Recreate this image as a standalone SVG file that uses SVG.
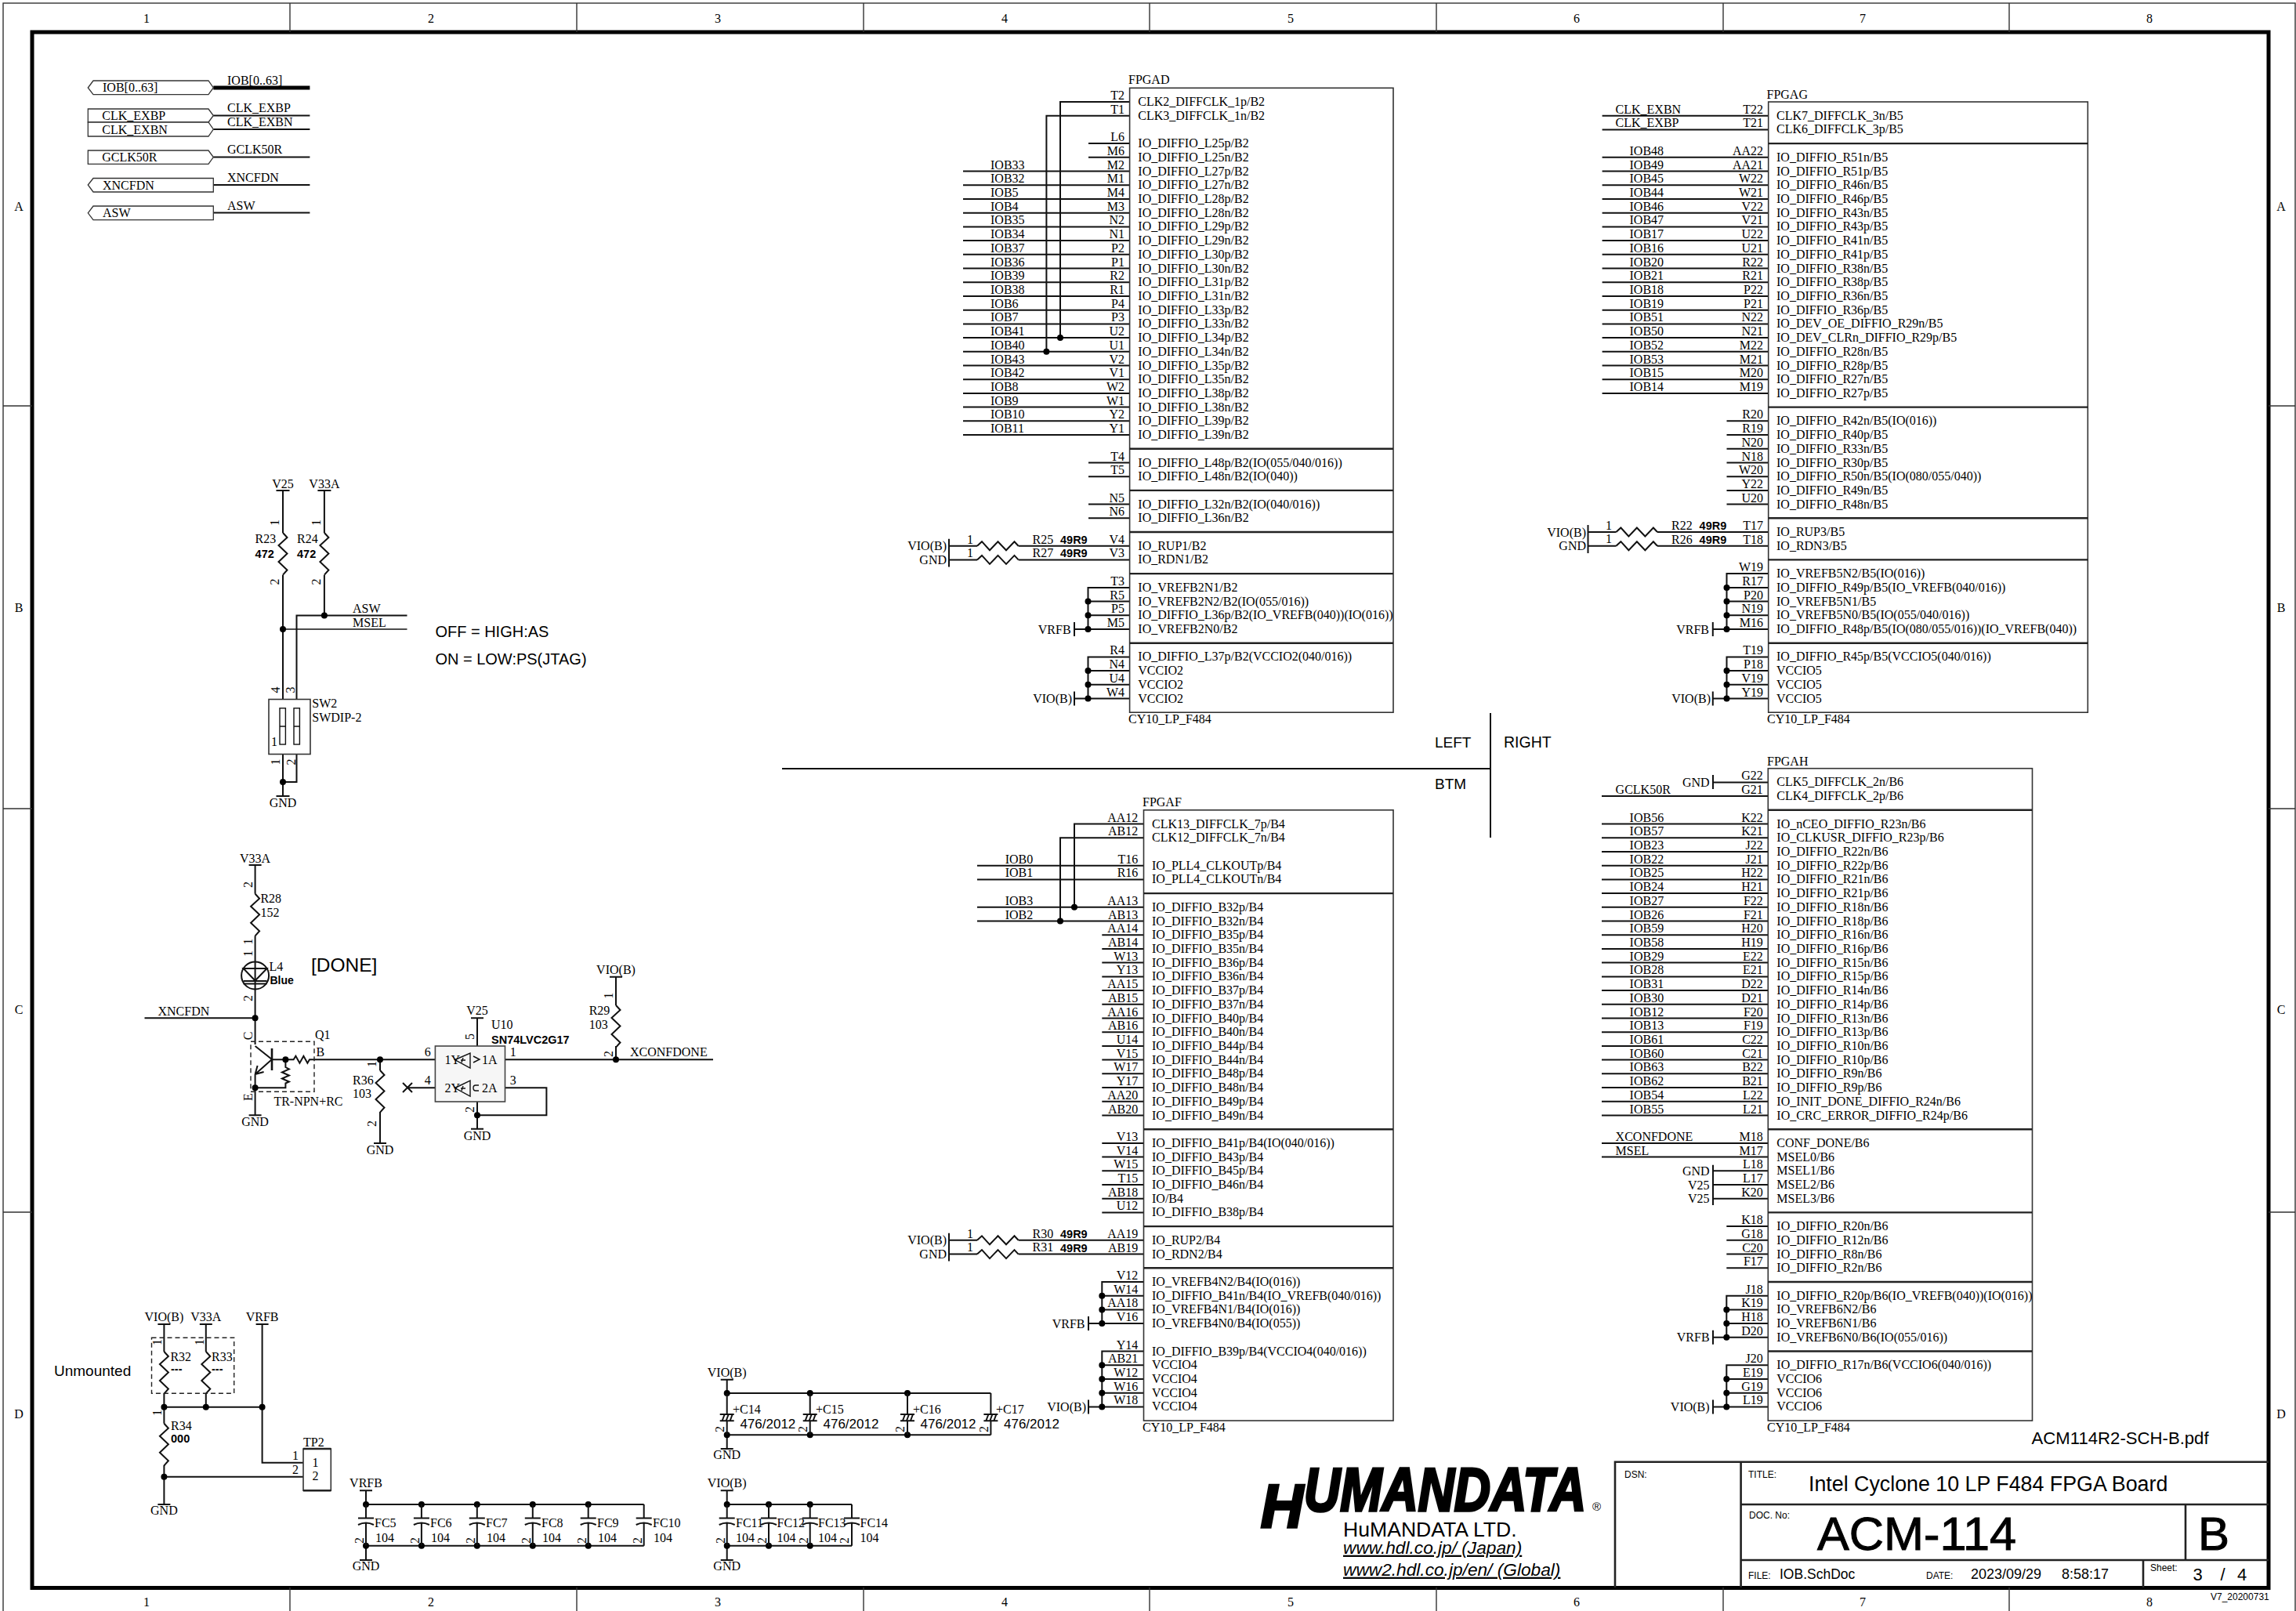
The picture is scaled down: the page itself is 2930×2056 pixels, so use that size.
<svg xmlns="http://www.w3.org/2000/svg" width="2930" height="2056" viewBox="0 0 2930 2056">
<style>
text{font-family:"Liberation Serif","Times New Roman",serif;font-size:16px;fill:#000}
.s text,text.s{font-family:"Liberation Sans",Arial,sans-serif}
.e text,text.e{text-anchor:end}
.m text,text.m{text-anchor:middle}
.bd{font-family:"Liberation Sans",Arial,sans-serif;font-weight:bold;font-size:14.5px}
.w{fill:none;stroke:#111;stroke-width:2}
.th{fill:none;stroke:#111;stroke-width:1.4}
.bus{fill:none;stroke:#000;stroke-width:5}
.dots{fill:none;stroke:#000;stroke-width:8;stroke-linecap:round}
.box{fill:#fff;stroke:#333;stroke-width:1.6}
.sec{fill:none;stroke:#222;stroke-width:2.4}
.dash{fill:none;stroke:#222;stroke-width:1.4;stroke-dasharray:6 4}
.port{fill:#fff;stroke:#333;stroke-width:1.3}
.frame{fill:none;stroke:#000;stroke-width:5}
.thin{fill:none;stroke:#333;stroke-width:1.4}
.tb{fill:none;stroke:#222;stroke-width:2.6}
.sm{font-family:"Liberation Sans",Arial,sans-serif;font-size:12px}
.logo{font-size:78px;font-weight:bold;font-style:italic;stroke:#000;stroke-width:3.5}
</style>
<defs>
<path id="rh" class="w" d="M0 0l6-5.5 10 11 10.5-11 10.5 11 10.5-11 5.1 5.5"/>
<path id="rv" class="w" d="M0 0l5.5 6-11 10 11 10.5-11 10.5 11 10.5-5.5 6.2"/>
<path id="fc" class="w" d="M0 0V17.5M-10 17.5H10M-10 26q10-5 20 0M0 23.5V52.7"/>
<path id="ec" class="w" d="M0 0V27M-9 27H9M-9 35.3H9M0 35.3V53.3M-6 35l3-8M-1 35l3-8M4 35l3-8"/>
</defs>
<rect width="2930" height="2056" fill="#fff"/>

<g id="frame">
<rect class="thin" x="4" y="4" width="2925" height="2060"/>
<rect class="frame" x="41" y="41" width="2854" height="1985.5"/>
<path class="thin" d="M370 4V41M736 4V41M1102 4V41M1467 4V41M1833 4V41M2199 4V41M2564 4V41M370 2026V2056M736 2026V2056M1102 2026V2056M1467 2026V2056M1833 2026V2056M2199 2026V2056M2564 2026V2056M4 518H41M4 1032H41M4 1547H41M2895 518H2929M2895 1032H2929M2895 1547H2929"/>
<g class="m">
<text x="187" y="29">1</text><text x="550" y="29">2</text><text x="916" y="29">3</text><text x="1282" y="29">4</text><text x="1647" y="29">5</text><text x="2012" y="29">6</text><text x="2377" y="29">7</text><text x="2743" y="29">8</text>
<text x="187" y="2050">1</text><text x="550" y="2050">2</text><text x="916" y="2050">3</text><text x="1282" y="2050">4</text><text x="1647" y="2050">5</text><text x="2012" y="2050">6</text><text x="2377" y="2050">7</text><text x="2743" y="2050">8</text>
<text x="24" y="269">A</text><text x="24" y="781">B</text><text x="24" y="1294">C</text><text x="24" y="1810">D</text>
<text x="2911" y="269">A</text><text x="2911" y="781">B</text><text x="2911" y="1294">C</text><text x="2911" y="1810">D</text>
</g>
</g>

<g id="connectors">
<path class="bus" d="M272.3 112H395.4"/>
<path class="w" d="M272.3 147.5H395.4M272.3 165H395.4M272.3 200.6H395.4M272.3 236H395.4M272.3 271.6H395.4"/>
<!-- FPGAD -->
<path class="w" d="M1353 431.1V130H1441.6M1335.4 448.8V147.7H1441.6M1389 183.1H1441.6M1389 200.8H1441.6M1229 218.6H1441.6M1229 236.3H1441.6M1229 254H1441.6M1229 271.7H1441.6M1229 289.4H1441.6M1229 307.1H1441.6M1229 324.8H1441.6M1229 342.5H1441.6M1229 360.2H1441.6M1229 377.9H1441.6M1229 395.7H1441.6M1229 413.4H1441.6M1229 431.1H1441.6M1229 448.8H1441.6M1229 466.5H1441.6M1229 484.2H1441.6M1229 501.9H1441.6M1229 519.6H1441.6M1229 537.3H1441.6M1229 555H1441.6M1389 590.5H1441.6M1389 608.2H1441.6M1389 643.6H1441.6M1389 661.3H1441.6M1211 687.7V723.4M1211 696.7H1247M1211 714.4H1247M1299.6 696.7H1441.6M1299.6 714.4H1441.6M1441.6 749.9H1388.5V803M1388.5 767.6H1441.6M1388.5 785.3H1441.6M1371 803H1441.6M1371 794V812M1441.6 838.4H1388.5V891.5M1388.5 856.1H1441.6M1388.5 873.8H1441.6M1371 891.5H1441.6M1371 882.5V900.5"/>
<!-- FPGAG -->
<path class="w" d="M2044.6 147.7H2256.7M2044.6 165.4H2256.7M2044.6 200.8H2256.7M2044.6 218.6H2256.7M2044.6 236.3H2256.7M2044.6 254H2256.7M2044.6 271.7H2256.7M2044.6 289.4H2256.7M2044.6 307.1H2256.7M2044.6 324.8H2256.7M2044.6 342.5H2256.7M2044.6 360.2H2256.7M2044.6 377.9H2256.7M2044.6 395.7H2256.7M2044.6 413.4H2256.7M2044.6 431.1H2256.7M2044.6 448.8H2256.7M2044.6 466.5H2256.7M2044.6 484.2H2256.7M2044.6 501.9H2256.7M2203.5 537.3H2256.7M2203.5 555H2256.7M2203.5 572.8H2256.7M2203.5 590.5H2256.7M2203.5 608.2H2256.7M2203.5 625.9H2256.7M2203.5 643.6H2256.7M2026.5 670V706M2026.5 679H2062.4M2026.5 696.7H2062.4M2115 679H2256.7M2115 696.7H2256.7M2256.7 732.1H2203.5V803M2203.5 749.9H2256.7M2203.5 767.6H2256.7M2203.5 785.3H2256.7M2185.8 803H2256.7M2185.8 794V812M2256.7 838.4H2203.5V891.5M2203.5 856.1H2256.7M2203.5 873.8H2256.7M2185.8 891.5H2256.7M2185.8 882.5V900.5"/>
<!-- FPGAF -->
<path class="w" d="M1371 1157.8V1051.5H1459.5M1353 1175.5V1069.3H1459.5M1247 1104.7H1459.5M1247 1122.4H1459.5M1247 1157.8H1459.5M1247 1175.5H1459.5M1406.3 1193.2H1459.5M1406.3 1210.9H1459.5M1406.3 1228.6H1459.5M1406.3 1246.4H1459.5M1406.3 1264.1H1459.5M1406.3 1281.8H1459.5M1406.3 1299.5H1459.5M1406.3 1317.2H1459.5M1406.3 1334.9H1459.5M1406.3 1352.6H1459.5M1406.3 1370.3H1459.5M1406.3 1388H1459.5M1406.3 1405.7H1459.5M1406.3 1423.5H1459.5M1406.3 1458.9H1459.5M1406.3 1476.6H1459.5M1406.3 1494.3H1459.5M1406.3 1512H1459.5M1406.3 1529.7H1459.5M1406.3 1547.4H1459.5M1211 1573.8V1609.6M1211 1582.8H1247M1211 1600.6H1247M1299.6 1582.8H1459.5M1299.6 1600.6H1459.5M1459.5 1636H1406.3V1689.1M1406.3 1653.7H1459.5M1406.3 1671.4H1459.5M1389 1689.1H1459.5M1389 1680V1698M1459.5 1724.5H1406.3V1795.4M1406.3 1742.2H1459.5M1406.3 1759.9H1459.5M1406.3 1777.7H1459.5M1389 1795.4H1459.5M1389 1786.4V1804.4"/>
<!-- FPGAH -->
<path class="w" d="M2186 989V1007M2186 998.4H2256.3M2044 1016.1H2256.3M2044 1051.5H2256.3M2044 1069.3H2256.3M2044 1087H2256.3M2044 1104.7H2256.3M2044 1122.4H2256.3M2044 1140.1H2256.3M2044 1157.8H2256.3M2044 1175.5H2256.3M2044 1193.2H2256.3M2044 1210.9H2256.3M2044 1228.6H2256.3M2044 1246.4H2256.3M2044 1264.1H2256.3M2044 1281.8H2256.3M2044 1299.5H2256.3M2044 1317.2H2256.3M2044 1334.9H2256.3M2044 1352.6H2256.3M2044 1370.3H2256.3M2044 1388H2256.3M2044 1405.7H2256.3M2044 1423.5H2256.3M2044 1458.9H2256.3M2044 1476.6H2256.3M2186 1486.7V1538M2186 1494.3H2256.3M2186 1512H2256.3M2186 1529.7H2256.3M2203.3 1565.1H2256.3M2203.3 1582.8H2256.3M2203.3 1600.6H2256.3M2203.3 1618.3H2256.3M2256.3 1653.7H2203.3V1706.8M2203.3 1671.4H2256.3M2203.3 1689.1H2256.3M2186 1706.8H2256.3M2186 1697.8V1715.8M2256.3 1742.2H2203.3V1795.4M2203.3 1759.9H2256.3M2203.3 1777.7H2256.3M2186 1795.4H2256.3M2186 1786.4V1804.4"/>
<!-- SW -->
<path class="w" d="M352.5 626H369.5M405.4 626H422.4M361 626V680M413.9 626V680M361 733.7V892.5M413.9 733.7V785.6M378.5 892.5V785.6H519.5M361 962.5V1016M352.5 1016H369.5M378.5 962.5V998H361"/>
<path class="th" d="M361 803H519.5"/>
<!-- DONE -->
<path class="w" d="M317.6 1104H333.6M325.6 1104V1140.7M325.6 1194.3V1333M184.5 1299.3H325.6M325.6 1335L347 1352M347 1352L325.6 1371M325.6 1371V1423.3M317.6 1423.3H333.6M325.6 1371l11-3M325.6 1371l3-11M347 1352.3H374.6l2.8-4.5 5 9 5-9 5 9 2.6-4.5H555.4M364.4 1352.3V1362l4.5 2.5-9 4 9 4-9 4 9 4-4.5 2V1388.3H325.6M485 1352.3V1366M485 1419V1459M477 1459H493M644.5 1352.3H910M786 1246.7V1283M786 1335V1352.3M778 1246.7H794M609 1299.3V1335M601 1299.3H617M555.4 1388.3H520M514 1382l12 12M526 1382l-12 12M644.5 1388.3H697.4V1423.3H609M609 1406V1440.7M601 1440.7H617"/>
<!-- bottom left -->
<path class="w" d="M201.4 1690H217.4M254.8 1690H270.8M326.6 1690H342.6M209.4 1690V1725M262.8 1690V1725M209.4 1778V1816.7M262.8 1778V1795.7M334.6 1690V1866.7H387M209.4 1795.7H334.6M209.4 1870V1920M201.4 1920H217.4M209.4 1884.7H387"/>
<path class="w" d="M459 1902.3H475M467 1902.3V1920M467 1920H821.7M467 1972.7H821.7M467 1972.7V1991M459 1991H475"/>
<path class="w" d="M919.7 1902.3H935.7M927.7 1902.3V1920M927.7 1920H1087M927.7 1972.7H1087M927.7 1972.7V1991M919.7 1991H935.7"/>
<path class="w" d="M919.7 1760.7H935.7M927.7 1760.7V1778M927.7 1778H1264.4M927.7 1831.3H1264.4M927.7 1831.3V1849M919.7 1849H935.7"/>
<path class="w" d="M998 981H1903M1902 910V1069"/>
<path class="dots" d="M1353 431.1h0M1335.4 448.8h0M1388.5 767.6h0M1388.5 785.3h0M1388.5 803h0M1388.5 856.1h0M1388.5 873.8h0M1388.5 891.5h0M2203.5 749.9h0M2203.5 767.6h0M2203.5 785.3h0M2203.5 803h0M2203.5 856.1h0M2203.5 873.8h0M2203.5 891.5h0M1371 1157.8h0M1353 1175.5h0M1406.3 1653.7h0M1406.3 1671.4h0M1406.3 1689.1h0M1406.3 1742.2h0M1406.3 1759.9h0M1406.3 1777.7h0M1406.3 1795.4h0M2203.3 1671.4h0M2203.3 1689.1h0M2203.3 1706.8h0M2203.3 1759.9h0M2203.3 1777.7h0M2203.3 1795.4h0M413.9 785.6h0M361 803h0M361 998h0M325.6 1299.3h0M364.4 1352.3h0M325.6 1388.3h0M485 1352.3h0M786 1352.3h0M609 1423.3h0M209.4 1795.7h0M262.8 1795.7h0M334.6 1795.7h0M209.4 1884.7h0M467 1920h0M537.9 1920h0M608.8 1920h0M679.8 1920h0M750.7 1920h0M467 1972.7h0M537.9 1972.7h0M608.8 1972.7h0M679.8 1972.7h0M750.7 1972.7h0M927.7 1920h0M981 1920h0M1033.7 1920h0M927.7 1972.7h0M981 1972.7h0M1033.7 1972.7h0M927.7 1778h0M1033.7 1778h0M1158 1778h0M927.7 1831.3h0M1033.7 1831.3h0M1158 1831.3h0"/>
</g>

<g id="port-IOB"><path class="port" d="M112.3 112L119 103H266L272.3 112L266 120.6H119Z"/><text x="131" y="117">IOB[0..63]</text><text x="290" y="107.5">IOB[0..63]</text></g>
<g id="port-CLK_EXBP"><path class="port" d="M112.3 139H266L272.3 147.5L266 156H112.3Z"/><text x="130.3" y="152.5">CLK_EXBP</text><text x="290" y="143">CLK_EXBP</text></g>
<g id="port-CLK_EXBN"><path class="port" d="M112.3 156H266L272.3 165L266 174H112.3Z"/><text x="130.3" y="170.6">CLK_EXBN</text><text x="290" y="161">CLK_EXBN</text></g>
<g id="port-GCLK50R"><path class="port" d="M112.3 192H266L272.3 200.6L266 209.4H112.3Z"/><text x="130.3" y="205.6">GCLK50R</text><text x="290" y="196">GCLK50R</text></g>
<g id="port-XNCFDN"><path class="port" d="M112.3 236L119 227.5H272.3V245H119Z"/><text x="131" y="242">XNCFDN</text><text x="290" y="232">XNCFDN</text></g>
<g id="port-ASW"><path class="port" d="M112.3 271.8L119 263H272.3V280.6H119Z"/><text x="131" y="277">ASW</text><text x="290" y="267.5">ASW</text></g>

<g id="FPGAD">
<rect class="box" x="1441.6" y="112.3" width="336.4" height="796.9" fill-opacity="0"/>
<path class="sec" d="M1441.6 572.8H1778M1441.6 625.9H1778M1441.6 679H1778M1441.6 732.1H1778M1441.6 820.7H1778"/>
<text x="1440" y="107.3">FPGAD</text><text x="1440" y="923.3">CY10_LP_F484</text>
<g class="e" transform="translate(1435,-3)">
<text y="130">T2</text><text y="147.7">T1</text><text y="183.1">L6</text><text y="200.8">M6</text><text y="218.6">M2</text><text y="236.3">M1</text><text y="254">M4</text><text y="271.7">M3</text><text y="289.4">N2</text><text y="307.1">N1</text><text y="324.8">P2</text><text y="342.5">P1</text><text y="360.2">R2</text><text y="377.9">R1</text><text y="395.7">P4</text><text y="413.4">P3</text><text y="431.1">U2</text><text y="448.8">U1</text><text y="466.5">V2</text><text y="484.2">V1</text><text y="501.9">W2</text><text y="519.6">W1</text><text y="537.3">Y2</text><text y="555">Y1</text><text y="590.5">T4</text><text y="608.2">T5</text><text y="643.6">N5</text><text y="661.3">N6</text><text y="696.7">V4</text><text y="714.4">V3</text><text y="749.9">T3</text><text y="767.6">R5</text><text y="785.3">P5</text><text y="803">M5</text><text y="838.4">R4</text><text y="856.1">N4</text><text y="873.8">U4</text><text y="891.5">W4</text>
</g>
<g transform="translate(1264,-3)">
<text y="218.6">IOB33</text><text y="236.3">IOB32</text><text y="254">IOB5</text><text y="271.7">IOB4</text><text y="289.4">IOB35</text><text y="307.1">IOB34</text><text y="324.8">IOB37</text><text y="342.5">IOB36</text><text y="360.2">IOB39</text><text y="377.9">IOB38</text><text y="395.7">IOB6</text><text y="413.4">IOB7</text><text y="431.1">IOB41</text><text y="448.8">IOB40</text><text y="466.5">IOB43</text><text y="484.2">IOB42</text><text y="501.9">IOB8</text><text y="519.6">IOB9</text><text y="537.3">IOB10</text><text y="555">IOB11</text>
</g>
<g transform="translate(1452.3,5)">
<text y="130">CLK2_DIFFCLK_1p/B2</text><text y="147.7">CLK3_DIFFCLK_1n/B2</text><text y="183.1">IO_DIFFIO_L25p/B2</text><text y="200.8">IO_DIFFIO_L25n/B2</text><text y="218.6">IO_DIFFIO_L27p/B2</text><text y="236.3">IO_DIFFIO_L27n/B2</text><text y="254">IO_DIFFIO_L28p/B2</text><text y="271.7">IO_DIFFIO_L28n/B2</text><text y="289.4">IO_DIFFIO_L29p/B2</text><text y="307.1">IO_DIFFIO_L29n/B2</text><text y="324.8">IO_DIFFIO_L30p/B2</text><text y="342.5">IO_DIFFIO_L30n/B2</text><text y="360.2">IO_DIFFIO_L31p/B2</text><text y="377.9">IO_DIFFIO_L31n/B2</text><text y="395.7">IO_DIFFIO_L33p/B2</text><text y="413.4">IO_DIFFIO_L33n/B2</text><text y="431.1">IO_DIFFIO_L34p/B2</text><text y="448.8">IO_DIFFIO_L34n/B2</text><text y="466.5">IO_DIFFIO_L35p/B2</text><text y="484.2">IO_DIFFIO_L35n/B2</text><text y="501.9">IO_DIFFIO_L38p/B2</text><text y="519.6">IO_DIFFIO_L38n/B2</text><text y="537.3">IO_DIFFIO_L39p/B2</text><text y="555">IO_DIFFIO_L39n/B2</text><text y="590.5">IO_DIFFIO_L48p/B2(IO(055/040/016))</text><text y="608.2">IO_DIFFIO_L48n/B2(IO(040))</text><text y="643.6">IO_DIFFIO_L32n/B2(IO(040/016))</text><text y="661.3">IO_DIFFIO_L36n/B2</text><text y="696.7">IO_RUP1/B2</text><text y="714.4">IO_RDN1/B2</text><text y="749.9">IO_VREFB2N1/B2</text><text y="767.6">IO_VREFB2N2/B2(IO(055/016))</text><text y="785.3">IO_DIFFIO_L36p/B2(IO_VREFB(040))(IO(016))</text><text y="803">IO_VREFB2N0/B2</text><text y="838.4">IO_DIFFIO_L37p/B2(VCCIO2(040/016))</text><text y="856.1">VCCIO2</text><text y="873.8">VCCIO2</text><text y="891.5">VCCIO2</text>
</g>
</g>
<g id="R25"><use href="#rh" x="1247" y="696.7"/><text x="1234" y="693.5">1</text><text x="1317.5" y="693.7">R25</text><text class="bd" x="1353" y="693.7">49R9</text></g>
<g id="R27"><use href="#rh" x="1247" y="714.4"/><text x="1234" y="711">1</text><text x="1317.5" y="711">R27</text><text class="bd" x="1353" y="711.4">49R9</text></g>
<g id="nets-D" class="e"><text x="1208" y="702.2">VIO(B)</text><text x="1208" y="719.9">GND</text><text x="1366.6" y="808.5">VRFB</text><text x="1368" y="897">VIO(B)</text></g>

<g id="FPGAG">
<rect class="box" x="2256.7" y="130" width="407.6" height="779.2" fill-opacity="0"/>
<path class="sec" d="M2256.7 183.1H2664.3M2256.7 519.6H2664.3M2256.7 661.3H2664.3M2256.7 714.4H2664.3M2256.7 820.7H2664.3"/>
<text x="2254.5" y="125.7">FPGAG</text><text x="2255" y="923.3">CY10_LP_F484</text>
<g class="e" transform="translate(2250,-3)">
<text y="147.7">T22</text><text y="165.4">T21</text><text y="200.8">AA22</text><text y="218.6">AA21</text><text y="236.3">W22</text><text y="254">W21</text><text y="271.7">V22</text><text y="289.4">V21</text><text y="307.1">U22</text><text y="324.8">U21</text><text y="342.5">R22</text><text y="360.2">R21</text><text y="377.9">P22</text><text y="395.7">P21</text><text y="413.4">N22</text><text y="431.1">N21</text><text y="448.8">M22</text><text y="466.5">M21</text><text y="484.2">M20</text><text y="501.9">M19</text><text y="537.3">R20</text><text y="555">R19</text><text y="572.8">N20</text><text y="590.5">N18</text><text y="608.2">W20</text><text y="625.9">Y22</text><text y="643.6">U20</text><text y="679">T17</text><text y="696.7">T18</text><text y="732.1">W19</text><text y="749.9">R17</text><text y="767.6">P20</text><text y="785.3">N19</text><text y="803">M16</text><text y="838.4">T19</text><text y="856.1">P18</text><text y="873.8">V19</text><text y="891.5">Y19</text>
</g>
<g transform="translate(2061.6,-3)"><text y="147.7">CLK_EXBN</text><text y="165.4">CLK_EXBP</text></g>
<g transform="translate(2079.5,-3)">
<text y="200.8">IOB48</text><text y="218.6">IOB49</text><text y="236.3">IOB45</text><text y="254">IOB44</text><text y="271.7">IOB46</text><text y="289.4">IOB47</text><text y="307.1">IOB17</text><text y="324.8">IOB16</text><text y="342.5">IOB20</text><text y="360.2">IOB21</text><text y="377.9">IOB18</text><text y="395.7">IOB19</text><text y="413.4">IOB51</text><text y="431.1">IOB50</text><text y="448.8">IOB52</text><text y="466.5">IOB53</text><text y="484.2">IOB15</text><text y="501.9">IOB14</text>
</g>
<g transform="translate(2267,5)">
<text y="147.7">CLK7_DIFFCLK_3n/B5</text><text y="165.4">CLK6_DIFFCLK_3p/B5</text><text y="200.8">IO_DIFFIO_R51n/B5</text><text y="218.6">IO_DIFFIO_R51p/B5</text><text y="236.3">IO_DIFFIO_R46n/B5</text><text y="254">IO_DIFFIO_R46p/B5</text><text y="271.7">IO_DIFFIO_R43n/B5</text><text y="289.4">IO_DIFFIO_R43p/B5</text><text y="307.1">IO_DIFFIO_R41n/B5</text><text y="324.8">IO_DIFFIO_R41p/B5</text><text y="342.5">IO_DIFFIO_R38n/B5</text><text y="360.2">IO_DIFFIO_R38p/B5</text><text y="377.9">IO_DIFFIO_R36n/B5</text><text y="395.7">IO_DIFFIO_R36p/B5</text><text y="413.4">IO_DEV_OE_DIFFIO_R29n/B5</text><text y="431.1">IO_DEV_CLRn_DIFFIO_R29p/B5</text><text y="448.8">IO_DIFFIO_R28n/B5</text><text y="466.5">IO_DIFFIO_R28p/B5</text><text y="484.2">IO_DIFFIO_R27n/B5</text><text y="501.9">IO_DIFFIO_R27p/B5</text><text y="537.3">IO_DIFFIO_R42n/B5(IO(016))</text><text y="555">IO_DIFFIO_R40p/B5</text><text y="572.8">IO_DIFFIO_R33n/B5</text><text y="590.5">IO_DIFFIO_R30p/B5</text><text y="608.2">IO_DIFFIO_R50n/B5(IO(080/055/040))</text><text y="625.9">IO_DIFFIO_R49n/B5</text><text y="643.6">IO_DIFFIO_R48n/B5</text><text y="679">IO_RUP3/B5</text><text y="696.7">IO_RDN3/B5</text><text y="732.1">IO_VREFB5N2/B5(IO(016))</text><text y="749.9">IO_DIFFIO_R49p/B5(IO_VREFB(040/016))</text><text y="767.6">IO_VREFB5N1/B5</text><text y="785.3">IO_VREFB5N0/B5(IO(055/040/016))</text><text y="803">IO_DIFFIO_R48p/B5(IO(080/055/016))(IO_VREFB(040))</text><text y="838.4">IO_DIFFIO_R45p/B5(VCCIO5(040/016))</text><text y="856.1">VCCIO5</text><text y="873.8">VCCIO5</text><text y="891.5">VCCIO5</text>
</g>
</g>
<g id="R22"><use href="#rh" x="2062.4" y="679"/><text x="2049" y="675.5">1</text><text x="2133" y="676">R22</text><text class="bd" x="2168.6" y="676">49R9</text></g>
<g id="R26"><use href="#rh" x="2062.4" y="696.7"/><text x="2049" y="693">1</text><text x="2133" y="693.7">R26</text><text class="bd" x="2168.6" y="693.7">49R9</text></g>
<g id="nets-G" class="e"><text x="2024" y="684.5">VIO(B)</text><text x="2024" y="702.2">GND</text><text x="2181" y="808.5">VRFB</text><text x="2183" y="897">VIO(B)</text></g>

<g id="FPGAF">
<rect class="box" x="1459.5" y="1033.8" width="318.5" height="779.3" fill-opacity="0"/>
<path class="sec" d="M1459.5 1140.1H1778M1459.5 1441.2H1778M1459.5 1565.1H1778M1459.5 1618.3H1778"/>
<text x="1458" y="1029">FPGAF</text><text x="1458" y="1827.3">CY10_LP_F484</text>
<g class="e" transform="translate(1452.3,-3)">
<text y="1051.5">AA12</text><text y="1069.3">AB12</text><text y="1104.7">T16</text><text y="1122.4">R16</text><text y="1157.8">AA13</text><text y="1175.5">AB13</text><text y="1193.2">AA14</text><text y="1210.9">AB14</text><text y="1228.6">W13</text><text y="1246.4">Y13</text><text y="1264.1">AA15</text><text y="1281.8">AB15</text><text y="1299.5">AA16</text><text y="1317.2">AB16</text><text y="1334.9">U14</text><text y="1352.6">V15</text><text y="1370.3">W17</text><text y="1388">Y17</text><text y="1405.7">AA20</text><text y="1423.5">AB20</text><text y="1458.9">V13</text><text y="1476.6">V14</text><text y="1494.3">W15</text><text y="1512">T15</text><text y="1529.7">AB18</text><text y="1547.4">U12</text><text y="1582.8">AA19</text><text y="1600.6">AB19</text><text y="1636">V12</text><text y="1653.7">W14</text><text y="1671.4">AA18</text><text y="1689.1">V16</text><text y="1724.5">Y14</text><text y="1742.2">AB21</text><text y="1759.9">W12</text><text y="1777.7">W16</text><text y="1795.4">W18</text>
</g>
<g transform="translate(1282.7,-3)"><text y="1104.7">IOB0</text><text y="1122.4">IOB1</text><text y="1157.8">IOB3</text><text y="1175.5">IOB2</text></g>
<g transform="translate(1470,5)">
<text y="1051.5">CLK13_DIFFCLK_7p/B4</text><text y="1069.3">CLK12_DIFFCLK_7n/B4</text><text y="1104.7">IO_PLL4_CLKOUTp/B4</text><text y="1122.4">IO_PLL4_CLKOUTn/B4</text><text y="1157.8">IO_DIFFIO_B32p/B4</text><text y="1175.5">IO_DIFFIO_B32n/B4</text><text y="1193.2">IO_DIFFIO_B35p/B4</text><text y="1210.9">IO_DIFFIO_B35n/B4</text><text y="1228.6">IO_DIFFIO_B36p/B4</text><text y="1246.4">IO_DIFFIO_B36n/B4</text><text y="1264.1">IO_DIFFIO_B37p/B4</text><text y="1281.8">IO_DIFFIO_B37n/B4</text><text y="1299.5">IO_DIFFIO_B40p/B4</text><text y="1317.2">IO_DIFFIO_B40n/B4</text><text y="1334.9">IO_DIFFIO_B44p/B4</text><text y="1352.6">IO_DIFFIO_B44n/B4</text><text y="1370.3">IO_DIFFIO_B48p/B4</text><text y="1388">IO_DIFFIO_B48n/B4</text><text y="1405.7">IO_DIFFIO_B49p/B4</text><text y="1423.5">IO_DIFFIO_B49n/B4</text><text y="1458.9">IO_DIFFIO_B41p/B4(IO(040/016))</text><text y="1476.6">IO_DIFFIO_B43p/B4</text><text y="1494.3">IO_DIFFIO_B45p/B4</text><text y="1512">IO_DIFFIO_B46n/B4</text><text y="1529.7">IO/B4</text><text y="1547.4">IO_DIFFIO_B38p/B4</text><text y="1582.8">IO_RUP2/B4</text><text y="1600.6">IO_RDN2/B4</text><text y="1636">IO_VREFB4N2/B4(IO(016))</text><text y="1653.7">IO_DIFFIO_B41n/B4(IO_VREFB(040/016))</text><text y="1671.4">IO_VREFB4N1/B4(IO(016))</text><text y="1689.1">IO_VREFB4N0/B4(IO(055))</text><text y="1724.5">IO_DIFFIO_B39p/B4(VCCIO4(040/016))</text><text y="1742.2">VCCIO4</text><text y="1759.9">VCCIO4</text><text y="1777.7">VCCIO4</text><text y="1795.4">VCCIO4</text>
</g>
</g>
<g id="R30"><use href="#rh" x="1247" y="1582.8"/><text x="1234" y="1579.5">1</text><text x="1317.5" y="1579.8">R30</text><text class="bd" x="1353" y="1579.8">49R9</text></g>
<g id="R31"><use href="#rh" x="1247" y="1600.6"/><text x="1234" y="1597">1</text><text x="1317.5" y="1597">R31</text><text class="bd" x="1353" y="1597.6">49R9</text></g>
<g id="nets-F" class="e"><text x="1208" y="1588.3">VIO(B)</text><text x="1208" y="1606">GND</text><text x="1384.5" y="1694.6">VRFB</text><text x="1386" y="1801">VIO(B)</text></g>

<g id="FPGAH">
<rect class="box" x="2256.3" y="980.7" width="337.2" height="832.4" fill-opacity="0"/>
<path class="sec" d="M2256.3 1033.8H2593.5M2256.3 1441.2H2593.5M2256.3 1547.4H2593.5M2256.3 1636H2593.5M2256.3 1724.5H2593.5"/>
<text x="2255" y="976.7">FPGAH</text><text x="2255" y="1826.7">CY10_LP_F484</text>
<g class="e" transform="translate(2249.8,-3)">
<text y="998.4">G22</text><text y="1016.1">G21</text><text y="1051.5">K22</text><text y="1069.3">K21</text><text y="1087">J22</text><text y="1104.7">J21</text><text y="1122.4">H22</text><text y="1140.1">H21</text><text y="1157.8">F22</text><text y="1175.5">F21</text><text y="1193.2">H20</text><text y="1210.9">H19</text><text y="1228.6">E22</text><text y="1246.4">E21</text><text y="1264.1">D22</text><text y="1281.8">D21</text><text y="1299.5">F20</text><text y="1317.2">F19</text><text y="1334.9">C22</text><text y="1352.6">C21</text><text y="1370.3">B22</text><text y="1388">B21</text><text y="1405.7">L22</text><text y="1423.5">L21</text><text y="1458.9">M18</text><text y="1476.6">M17</text><text y="1494.3">L18</text><text y="1512">L17</text><text y="1529.7">K20</text><text y="1565.1">K18</text><text y="1582.8">G18</text><text y="1600.6">C20</text><text y="1618.3">F17</text><text y="1653.7">J18</text><text y="1671.4">K19</text><text y="1689.1">H18</text><text y="1706.8">D20</text><text y="1742.2">J20</text><text y="1759.9">E19</text><text y="1777.7">G19</text><text y="1795.4">L19</text>
</g>
<g transform="translate(2061.6,-3)"><text y="1016.1">GCLK50R</text><text y="1458.9">XCONFDONE</text><text y="1476.6">MSEL</text></g>
<g transform="translate(2079.6,-3)">
<text y="1051.5">IOB56</text><text y="1069.3">IOB57</text><text y="1087">IOB23</text><text y="1104.7">IOB22</text><text y="1122.4">IOB25</text><text y="1140.1">IOB24</text><text y="1157.8">IOB27</text><text y="1175.5">IOB26</text><text y="1193.2">IOB59</text><text y="1210.9">IOB58</text><text y="1228.6">IOB29</text><text y="1246.4">IOB28</text><text y="1264.1">IOB31</text><text y="1281.8">IOB30</text><text y="1299.5">IOB12</text><text y="1317.2">IOB13</text><text y="1334.9">IOB61</text><text y="1352.6">IOB60</text><text y="1370.3">IOB63</text><text y="1388">IOB62</text><text y="1405.7">IOB54</text><text y="1423.5">IOB55</text>
</g>
<g transform="translate(2267.3,5)">
<text y="998.4">CLK5_DIFFCLK_2n/B6</text><text y="1016.1">CLK4_DIFFCLK_2p/B6</text><text y="1051.5">IO_nCEO_DIFFIO_R23n/B6</text><text y="1069.3">IO_CLKUSR_DIFFIO_R23p/B6</text><text y="1087">IO_DIFFIO_R22n/B6</text><text y="1104.7">IO_DIFFIO_R22p/B6</text><text y="1122.4">IO_DIFFIO_R21n/B6</text><text y="1140.1">IO_DIFFIO_R21p/B6</text><text y="1157.8">IO_DIFFIO_R18n/B6</text><text y="1175.5">IO_DIFFIO_R18p/B6</text><text y="1193.2">IO_DIFFIO_R16n/B6</text><text y="1210.9">IO_DIFFIO_R16p/B6</text><text y="1228.6">IO_DIFFIO_R15n/B6</text><text y="1246.4">IO_DIFFIO_R15p/B6</text><text y="1264.1">IO_DIFFIO_R14n/B6</text><text y="1281.8">IO_DIFFIO_R14p/B6</text><text y="1299.5">IO_DIFFIO_R13n/B6</text><text y="1317.2">IO_DIFFIO_R13p/B6</text><text y="1334.9">IO_DIFFIO_R10n/B6</text><text y="1352.6">IO_DIFFIO_R10p/B6</text><text y="1370.3">IO_DIFFIO_R9n/B6</text><text y="1388">IO_DIFFIO_R9p/B6</text><text y="1405.7">IO_INIT_DONE_DIFFIO_R24n/B6</text><text y="1423.5">IO_CRC_ERROR_DIFFIO_R24p/B6</text><text y="1458.9">CONF_DONE/B6</text><text y="1476.6">MSEL0/B6</text><text y="1494.3">MSEL1/B6</text><text y="1512">MSEL2/B6</text><text y="1529.7">MSEL3/B6</text><text y="1565.1">IO_DIFFIO_R20n/B6</text><text y="1582.8">IO_DIFFIO_R12n/B6</text><text y="1600.6">IO_DIFFIO_R8n/B6</text><text y="1618.3">IO_DIFFIO_R2n/B6</text><text y="1653.7">IO_DIFFIO_R20p/B6(IO_VREFB(040))(IO(016))</text><text y="1671.4">IO_VREFB6N2/B6</text><text y="1689.1">IO_VREFB6N1/B6</text><text y="1706.8">IO_VREFB6N0/B6(IO(055/016))</text><text y="1742.2">IO_DIFFIO_R17n/B6(VCCIO6(040/016))</text><text y="1759.9">VCCIO6</text><text y="1777.7">VCCIO6</text><text y="1795.4">VCCIO6</text>
</g>
</g>
<g id="nets-H" class="e"><text x="2181.6" y="1003.9">GND</text><text x="2181.6" y="1499.8">GND</text><text x="2181.6" y="1517.5">V25</text><text x="2181.6" y="1535.2">V25</text><text x="2181.6" y="1712.3">VRFB</text><text x="2181.6" y="1800.9">VIO(B)</text></g>

<g id="sides" class="s"><text x="1831" y="954" style="font-size:19px">LEFT</text><text x="1919" y="954" style="font-size:19.500px">RIGHT</text><text x="1831" y="1007" style="font-size:19px">BTM</text>
<text x="555.4" y="813" style="font-size:20px">OFF = HIGH:AS</text><text x="555.4" y="848" style="font-size:20px">ON = LOW:PS(JTAG)</text></g>

<g id="R23"><use href="#rv" x="361" y="680"/><text class="m" x="361" y="622.5">V25</text><text class="m" x="356" y="667" transform="rotate(-90 356 667)">1</text><text class="m" x="356" y="742.5" transform="rotate(-90 356 742.5)">2</text><text x="325.6" y="692.5">R23</text><text class="bd" x="325.6" y="712">472</text></g>
<g id="R24"><use href="#rv" x="413.9" y="680"/><text class="m" x="413.9" y="622.5">V33A</text><text class="m" x="408.9" y="667" transform="rotate(-90 408.9 667)">1</text><text class="m" x="408.9" y="742.5" transform="rotate(-90 408.9 742.5)">2</text><text x="379" y="692.5">R24</text><text class="bd" x="379" y="712">472</text></g>
<text x="450" y="782">ASW</text><text x="450" y="800">MSEL</text>
<g id="SW2"><rect class="box" x="343" y="892.5" width="53" height="70"/><rect class="th" x="357" y="903.8" width="7.4" height="46.2"/><rect class="th" x="375" y="903.8" width="7.4" height="46.2"/><path class="th" d="M357 927H364.4M375 927H382.4"/><text x="346" y="952">1</text>
<text class="m" x="357" y="880.6" transform="rotate(-90 357 880.6)">4</text><text class="m" x="376.5" y="880.6" transform="rotate(-90 376.5 880.6)">3</text><text class="m" x="357" y="972.5" transform="rotate(-90 357 972.5)">1</text><text class="m" x="376.5" y="972.5" transform="rotate(-90 376.5 972.5)">2</text><text x="398.3" y="903">SW2</text><text x="398.3" y="921">SWDIP-2</text><text class="m" x="361" y="1030">GND</text></g>

<g id="R28"><use href="#rv" x="325.6" y="1140.7"/><text class="m" x="325.6" y="1100.7">V33A</text><text class="m" x="322" y="1129" transform="rotate(-90 322 1129)">2</text><text class="m" x="322" y="1201.7" transform="rotate(-90 322 1201.7)">1</text><text x="332.4" y="1151.7">R28</text><text x="332.4" y="1169.7">152</text></g>
<g id="L4"><circle cx="325.6" cy="1245" r="17.5" fill="none" stroke="#111" stroke-width="2"/><path class="w" d="M310.6 1236H340.6L325.6 1251.5ZM310.6 1252H340.6M310.6 1255.5H340.6"/><text class="m" x="322" y="1217" transform="rotate(-90 322 1217)">1</text><text class="m" x="322" y="1274" transform="rotate(-90 322 1274)">2</text><text x="343.5" y="1239">L4</text><text class="bd" x="344.5" y="1256" style="font-size:14px">Blue</text></g>
<text class="s" x="397" y="1240" style="font-size:24.5px">[DONE]</text>
<text x="201.5" y="1295.7">XNCFDN</text>
<g id="Q1"><path class="w" d="M347 1338V1366" style="stroke-width:2.6"/><rect class="dash" x="320" y="1329.3" width="81" height="64"/><text class="m" x="322" y="1322" transform="rotate(-90 322 1322)">C</text><text class="m" x="322" y="1400" transform="rotate(-90 322 1400)">E</text><text x="402" y="1326">Q1</text><text x="403.6" y="1348">B</text><text x="349.4" y="1411">TR-NPN+RC</text><text class="m" x="325.6" y="1437">GND</text></g>
<g id="R36"><use href="#rv" x="485" y="1366"/><text class="m" x="480" y="1358" transform="rotate(-90 480 1358)">1</text><text class="m" x="480" y="1434" transform="rotate(-90 480 1434)">2</text><text x="450" y="1384">R36</text><text x="450" y="1401">103</text><text class="m" x="485" y="1472.7">GND</text></g>
<g id="U10"><rect x="555.4" y="1335" width="89.1" height="71" fill="#f6f6f6" stroke="#444" stroke-width="1.6"/>
<path class="th" d="M580.6 1352.5L600 1344V1363ZM580.6 1388.5L600 1379V1399ZM588 1353h6M591 1350l-2 6M588 1389h6M591 1386l-2 6M604 1348l8 4-8 4M611 1385h-4q-3 0-3 3.500t3 3.500h4"/>
<text x="567.5" y="1358">1Y</text><text x="615" y="1358">1A</text><text x="567.5" y="1394">2Y</text><text x="615" y="1394">2A</text>
<text class="m" x="545.700" y="1348">6</text><text class="m" x="545.700" y="1384">4</text><text class="m" x="654.700" y="1348">1</text><text class="m" x="654.700" y="1384">3</text>
<text class="m" x="605" y="1323" transform="rotate(-90 605 1323)">5</text><text class="m" x="605" y="1416" transform="rotate(-90 605 1416)">2</text>
<text class="m" x="609" y="1295">V25</text><text x="627" y="1313">U10</text><text class="bd" x="627" y="1331.700">SN74LVC2G17</text><text class="m" x="609" y="1455">GND</text></g>
<g id="R29"><use href="#rv" x="786" y="1283"/><text class="m" x="786" y="1243">VIO(B)</text><text class="m" x="782" y="1270.700" transform="rotate(-90 782 1270.700)">1</text><text class="m" x="782" y="1345" transform="rotate(-90 782 1345)">2</text><text x="751.700" y="1295">R29</text><text x="751.700" y="1313">103</text></g>
<text x="804" y="1348">XCONFDONE</text>

<g id="R32"><use href="#rv" x="209.400" y="1725"/><text class="m" x="209.400" y="1686">VIO(B)</text><text class="m" x="206" y="1713" transform="rotate(-90 206 1713)">1</text><text x="217.400" y="1736.700">R32</text><text class="bd" x="218" y="1752">---</text></g>
<g id="R33"><use href="#rv" x="262.800" y="1725"/><text class="m" x="262.800" y="1686">V33A</text><text class="m" x="259.500" y="1713" transform="rotate(-90 259.500 1713)">1</text><text x="270" y="1736.700">R33</text><text class="bd" x="270" y="1752">---</text></g>
<rect class="dash" x="193.500" y="1707.300" width="105.200" height="71"/>
<text class="s" x="69" y="1756" style="font-size:19px">Unmounted</text>
<text class="m" x="334.600" y="1686">VRFB</text>
<g id="R34"><use href="#rv" x="209.400" y="1816.700"/><text class="m" x="206" y="1803" transform="rotate(-90 206 1803)">1</text><text x="218" y="1825">R34</text><text class="bd" x="218" y="1841">000</text><text class="m" x="209.400" y="1933">GND</text></g>
<g id="TP2"><rect class="box" x="387" y="1849" width="35.300" height="53.300"/><path class="sec" d="M387 1849H422.300M387 1902.300H422.300"/><text x="387" y="1846">TP2</text><text class="e" x="381" y="1862.700">1</text><text class="e" x="381" y="1880.700">2</text><text x="398.400" y="1871.700">1</text><text x="398.400" y="1889.300">2</text></g>

<g id="C14"><use href="#ec" x="927.700" y="1778"/><text x="935" y="1804">+C14</text><text class="s" x="944.400" y="1823" style="font-size:17px">476/2012</text><text class="m" x="924" y="1824" transform="rotate(-90 924 1824)">2</text><text class="m" x="927.700" y="1756.700">VIO(B)</text><text class="m" x="927.700" y="1862">GND</text></g>
<g id="C15"><use href="#ec" x="1033.700" y="1778"/><text x="1041" y="1804">+C15</text><text class="s" x="1050.500" y="1823" style="font-size:17px">476/2012</text><text class="m" x="1030" y="1824" transform="rotate(-90 1030 1824)">2</text></g>
<g id="C16"><use href="#ec" x="1158" y="1778"/><text x="1165" y="1804">+C16</text><text class="s" x="1174.600" y="1823" style="font-size:17px">476/2012</text><text class="m" x="1154" y="1824" transform="rotate(-90 1154 1824)">2</text></g>
<g id="C17"><use href="#ec" x="1264.400" y="1778"/><text x="1271" y="1804">+C17</text><text class="s" x="1281" y="1823" style="font-size:17px">476/2012</text><text class="m" x="1260.500" y="1824" transform="rotate(-90 1260.500 1824)">2</text></g>

<g id="FC5"><use href="#fc" x="467" y="1920"/><text x="478" y="1949.300">FC5</text><text x="479" y="1968">104</text><text class="m" x="464" y="1966" transform="rotate(-90 464 1966)">2</text><text class="m" x="467" y="1898">VRFB</text><text class="m" x="467" y="2004">GND</text></g>
<g id="FC6"><use href="#fc" x="537.900" y="1920"/><text x="549" y="1949.300">FC6</text><text x="550" y="1968">104</text><text class="m" x="535" y="1966" transform="rotate(-90 535 1966)">2</text></g>
<g id="FC7"><use href="#fc" x="608.800" y="1920"/><text x="620" y="1949.300">FC7</text><text x="621" y="1968">104</text><text class="m" x="606" y="1966" transform="rotate(-90 606 1966)">2</text></g>
<g id="FC8"><use href="#fc" x="679.800" y="1920"/><text x="691" y="1949.300">FC8</text><text x="692" y="1968">104</text><text class="m" x="677" y="1966" transform="rotate(-90 677 1966)">2</text></g>
<g id="FC9"><use href="#fc" x="750.700" y="1920"/><text x="762" y="1949.300">FC9</text><text x="763" y="1968">104</text><text class="m" x="748" y="1966" transform="rotate(-90 748 1966)">2</text></g>
<g id="FC10"><use href="#fc" x="821.700" y="1920"/><text x="833" y="1949.300">FC10</text><text x="834" y="1968">104</text><text class="m" x="819" y="1966" transform="rotate(-90 819 1966)">2</text></g>
<g id="FC11"><use href="#fc" x="927.700" y="1920"/><text x="939" y="1949.300">FC11</text><text x="939" y="1968">104</text><text class="m" x="925" y="1966" transform="rotate(-90 925 1966)">2</text><text class="m" x="927.700" y="1898">VIO(B)</text><text class="m" x="927.700" y="2004">GND</text></g>
<g id="FC12"><use href="#fc" x="981" y="1920"/><text x="991.500" y="1949.300">FC12</text><text x="991.500" y="1968">104</text><text class="m" x="978" y="1966" transform="rotate(-90 978 1966)">2</text></g>
<g id="FC13"><use href="#fc" x="1033.700" y="1920"/><text x="1044" y="1949.300">FC13</text><text x="1044" y="1968">104</text><text class="m" x="1031" y="1966" transform="rotate(-90 1031 1966)">2</text></g>
<g id="FC14"><use href="#fc" x="1087" y="1920"/><text x="1097.500" y="1949.300">FC14</text><text x="1097.500" y="1968">104</text><text class="m" x="1083" y="1966" transform="rotate(-90 1083 1966)">2</text></g>

<text class="s" x="2592.600" y="1842.700" style="font-size:22px" textLength="226" lengthAdjust="spacingAndGlyphs">ACM114R2-SCH-B.pdf</text>

<g id="logo" class="s">
<text class="logo" x="1609" y="1949" textLength="54" lengthAdjust="spacingAndGlyphs">H</text>
<text class="logo" x="1664" y="1928" textLength="360" lengthAdjust="spacingAndGlyphs">UMANDATA</text>
<text x="2032" y="1928" style="font-size:15px">®</text>
<text x="1714" y="1960.700" style="font-size:26.600px">HuMANDATA LTD.</text>
<text x="1714" y="1982.700" style="font-size:22.700px;font-style:italic;text-decoration:underline">www.hdl.co.jp/ (Japan)</text>
<text x="1714" y="2010.700" style="font-size:22.700px;font-style:italic;text-decoration:underline">www2.hdl.co.jp/en/ (Global)</text>
</g>

<g id="title-block">
<path class="tb" d="M2061 2026V1865.700H2895M2221.600 1865.700V2026M2221.600 1920H2895M2221.600 1991H2895M2789 1920V1991M2735 1991V2026"/>
<g class="s">
<text class="sm" x="2073" y="1885.700">DSN:</text><text class="sm" x="2231" y="1885.700">TITLE:</text>
<text x="2308" y="1903" style="font-size:26.800px">Intel Cyclone 10 LP F484 FPGA Board</text>
<text class="sm" x="2232" y="1938.300">DOC. No:</text>
<text x="2319" y="1978" style="font-size:60px;stroke:#000;stroke-width:1" textLength="254" lengthAdjust="spacingAndGlyphs">ACM-114</text>
<text x="2805" y="1978" style="font-size:60px;stroke:#000;stroke-width:1">B</text>
<text class="sm" x="2231" y="2015">FILE:</text><text x="2271" y="2015" style="font-size:17.500px">IOB.SchDoc</text>
<text class="sm" x="2458" y="2015">DATE:</text><text x="2515" y="2015" style="font-size:18px">2023/09/29</text><text x="2631" y="2015" style="font-size:18px">8:58:17</text>
<text class="sm" x="2744" y="2005">Sheet:</text><text x="2798.600" y="2016.700" style="font-size:22px">3</text><text x="2833.600" y="2016.700" style="font-size:22px">/</text><text x="2855" y="2016.700" style="font-size:22px">4</text>
<text class="sm" x="2821" y="2041.700">V7_20200731</text>
</g>
</g>
</svg>
